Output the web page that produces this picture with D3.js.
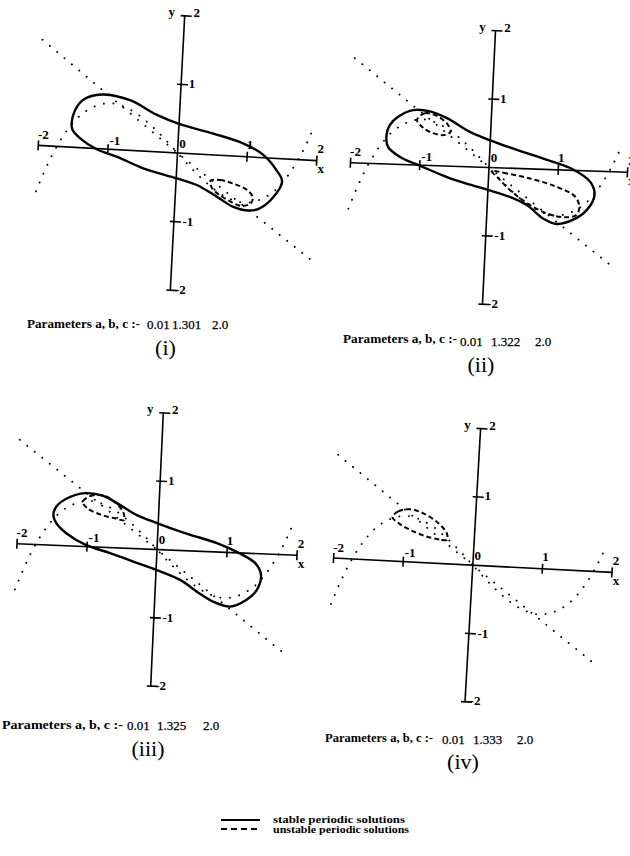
<!DOCTYPE html>
<html><head><meta charset="utf-8">
<script src="https://cdn.jsdelivr.net/npm/d3@7"></script>
<style>
html,body{margin:0;padding:0;background:#fff;}
svg{display:block;}
text{font-family:"Liberation Serif","Times New Roman",serif;fill:#000;}
</style></head>
<body>
<svg id="c" width="630" height="856"></svg>
<script>
// ---------- data ----------
const panelNames = ["(i)", "(ii)", "(iii)", "(iv)"];
const paramA = ["0.01", "0.01", "0.01", "0.01"];
const paramB = ["1.301", "1.322", "1.325", "1.333"];
const paramC = ["2.0", "2.0", "2.0", "2.0"];
const axisTicks = [-2, -1, 1, 2];

// dotted cubic curve (same in all panels)
const cubicX = [-2.0,-1.8,-1.6,-1.4,-1.2,-1.0,-0.8,-0.6,-0.4,-0.2,0,0.2,0.4,0.6,0.8,1.0,1.2,1.4,1.6,1.8,1.9];
const cubicY = [-0.67,-0.14,0.24,0.49,0.62,0.67,0.63,0.53,0.38,0.20,0,-0.20,-0.38,-0.53,-0.63,-0.67,-0.62,-0.49,-0.24,0.14,0.39];

// dotted straight line through the origin, per panel
const line1 = [[-2.02,1.54],[0,0],[2.05,-1.49]];
const line2 = [[-2.01,1.53],[0,0],[1.89,-1.42]];
const line3 = [[-2.03,1.52],[0,0],[1.85,-1.42]];
const line4 = [[-2.02,1.51],[0,0],[1.88,-1.39]];

// stable periodic solutions (solid)
const stable1 = [[-1.54,0.35],[-1.52,0.25],[-1.41,0.14],[-1.16,-0.01],[-0.87,-0.10],[-0.48,-0.25],[0.01,-0.37],[0.30,-0.45],[0.59,-0.60],[0.84,-0.74],[1.06,-0.78],[1.22,-0.74],[1.41,-0.56],[1.52,-0.33],[1.43,-0.17],[1.23,0.04],[0.94,0.19],[0.50,0.31],[0.01,0.42],[-0.33,0.54],[-0.72,0.73],[-1.13,0.79],[-1.39,0.70],[-1.50,0.54]];
const stable2 = [[-1.50,0.42],[-1.47,0.25],[-1.29,0.11],[-0.99,-0.01],[-0.60,-0.16],[-0.26,-0.26],[0.01,-0.33],[0.32,-0.42],[0.57,-0.53],[0.82,-0.72],[1.02,-0.79],[1.25,-0.72],[1.44,-0.57],[1.54,-0.35],[1.47,-0.16],[1.22,0.01],[0.83,0.14],[0.39,0.27],[-0.01,0.40],[-0.30,0.51],[-0.64,0.70],[-0.89,0.79],[-1.13,0.80],[-1.34,0.70],[-1.46,0.57]];
const stable3 = [[-1.50,0.44],[-1.45,0.32],[-1.30,0.18],[-1.01,0.02],[-0.67,-0.08],[-0.33,-0.19],[0.01,-0.30],[0.35,-0.43],[0.64,-0.62],[0.84,-0.73],[1.08,-0.79],[1.31,-0.68],[1.45,-0.53],[1.50,-0.31],[1.41,-0.14],[1.19,-0.01],[0.85,0.13],[0.41,0.25],[0.00,0.38],[-0.31,0.49],[-0.56,0.63],[-0.80,0.75],[-1.06,0.78],[-1.32,0.69],[-1.46,0.57]];

// unstable periodic solutions (dashed)
const unstable1 = [[0.49,-0.38],[0.63,-0.36],[0.82,-0.40],[1.02,-0.48],[1.11,-0.58],[1.09,-0.67],[0.96,-0.72],[0.79,-0.66],[0.64,-0.58],[0.52,-0.48]];
const unstable2a = [[-1.07,0.66],[-0.96,0.76],[-0.77,0.72],[-0.62,0.60],[-0.58,0.50],[-0.68,0.45],[-0.85,0.48],[-0.98,0.55]];
const unstable2b = [[0.04,-0.05],[0.21,-0.07],[0.60,-0.14],[0.99,-0.25],[1.26,-0.38],[1.33,-0.53],[1.29,-0.65],[1.13,-0.69],[0.86,-0.64],[0.57,-0.50],[0.32,-0.32],[0.14,-0.15]];
const unstable3 = [[-1.09,0.65],[-0.99,0.74],[-0.80,0.76],[-0.61,0.65],[-0.50,0.51],[-0.49,0.41],[-0.62,0.43],[-0.84,0.48],[-1.02,0.56]];
const unstable4 = [[-1.19,0.64],[-1.11,0.73],[-0.95,0.77],[-0.75,0.72],[-0.53,0.59],[-0.40,0.45],[-0.39,0.35],[-0.49,0.35],[-0.71,0.39],[-0.93,0.47],[-1.10,0.56]];

const legendLabels = ["stable periodic solutions", "unstable periodic solutions"];

// ---------- layout ----------
const layout = [
  {ox:177.5, oy:153,   ux:[69.6,3.8],  uy:[3.6,-68.6],
   par:{lx:27, ly:328, len:113, nx:[147,172,212], ny:329}, nm:{x:165.5, y:355}},
  {ox:489,   oy:167.5, ux:[69.25,2.35],uy:[3.25,-68.4],
   par:{lx:343,ly:343, len:114, nx:[460,491,535], ny:346}, nm:{x:481, y:372}},
  {ox:157,   oy:549.5, ux:[70,2.9],    uy:[3.15,-68.3],
   par:{lx:2,  ly:729, len:121, nx:[127,157,203], ny:730}, nm:{x:148, y:756}},
  {ox:472.8, oy:565.2, ux:[69.6,3.6],  uy:[3.9,-68.3],
   par:{lx:325,ly:742, len:108, nx:[442,473,517], ny:744}, nm:{x:463, y:769}}
];
const stableSets = [[stable1],[stable2],[stable3],[]];
const unstableSets = [[unstable1],[unstable2a,unstable2b],[unstable3],[unstable4]];
const lineSets = [line1,line2,line3,line4];

const svg = d3.select("#c");
const cubic = cubicX.map((x,i)=>[x,cubicY[i]]);

layout.forEach((L, k) => {
  const xPx = d3.scaleLinear().domain([0,1]).range([L.ox, L.ox + L.ux[0]]);
  const xPy = d3.scaleLinear().domain([0,1]).range([L.oy, L.oy + L.ux[1]]);
  const yPx = d3.scaleLinear().domain([0,1]).range([0, L.uy[0]]);
  const yPy = d3.scaleLinear().domain([0,1]).range([0, L.uy[1]]);
  const P = (x,y) => [xPx(x) + yPx(y), xPy(x) + yPy(y)];
  const g = svg.append("g");

  const nx = Math.hypot(L.ux[0],L.ux[1]), ny = Math.hypot(L.uy[0],L.uy[1]);
  const uxh = [L.ux[0]/nx, L.ux[1]/nx], uyh = [L.uy[0]/ny, L.uy[1]/ny];

  // axes
  const seg = (a,b) => g.append("line").attr("x1",a[0]).attr("y1",a[1]).attr("x2",b[0]).attr("y2",b[1])
      .attr("stroke","#000").attr("stroke-width",1.6);
  seg(P(-2,0), P(2,0));
  seg(P(0,-2), P(0,2));
  axisTicks.forEach(t => {
    const p = P(t,0);
    seg([p[0]-5*uyh[0], p[1]-5*uyh[1]], [p[0]+5*uyh[0], p[1]+5*uyh[1]]);
    const q = P(0,t);
    seg([q[0]-4*uxh[0], q[1]-4*uxh[1]], [q[0]+7*uxh[0], q[1]+7*uxh[1]]);
  });

  const lab = (txt, p, dx, dy, size) => g.append("text").attr("x", p[0]+dx).attr("y", p[1]+dy)
      .attr("text-anchor","middle").attr("dominant-baseline","central")
      .attr("font-size", size || 13).attr("font-weight","bold").text(txt);
  const xOff = {"-2":[5,-11], "-1":[7,-9], "1":[3,-12], "2":[4,-12]};
  const yOff = {"-2":[10,-1], "-1":[14,0], "1":[11,-1], "2":[12,-3]};
  axisTicks.forEach(t => {
    lab(String(t), P(t,0), xOff[t][0], xOff[t][1]);
    lab(String(t), P(0,t), yOff[t][0], yOff[t][1]);
  });
  lab("0", P(0,0), 5, -10);
  lab("x", P(2,0), 4, 8);
  lab("y", P(0,2), -13, -4);

  const ln = d3.line().x(d => P(d[0],d[1])[0]).y(d => P(d[0],d[1])[1]);

  // dotted curves
  g.append("path").attr("d", ln.curve(d3.curveCatmullRom)(cubic))
    .attr("fill","none").attr("stroke","#000").attr("stroke-width",1.9)
    .attr("stroke-linecap","round").attr("stroke-dasharray","0.1,9.5");
  g.append("path").attr("d", ln.curve(d3.curveLinear)(lineSets[k]))
    .attr("fill","none").attr("stroke","#000").attr("stroke-width",1.9)
    .attr("stroke-linecap","round").attr("stroke-dasharray","0.1,9.5");

  // stable loops
  stableSets[k].forEach(s => {
    g.append("path").attr("d", ln.curve(d3.curveCatmullRomClosed)(s))
      .attr("fill","none").attr("stroke","#000").attr("stroke-width",2.4);
  });
  // unstable loops
  unstableSets[k].forEach(s => {
    g.append("path").attr("d", ln.curve(d3.curveCatmullRomClosed)(s))
      .attr("fill","none").attr("stroke","#000").attr("stroke-width",2)
      .attr("stroke-dasharray","5,3");
  });

  // parameters text
  g.append("text").attr("x", L.par.lx).attr("y", L.par.ly)
    .attr("font-size", 11.5).attr("font-weight","bold")
    .attr("textLength", L.par.len).attr("lengthAdjust","spacingAndGlyphs")
    .text("Parameters a, b, c :-");
  [paramA[k], paramB[k], paramC[k]].forEach((v,i) => {
    g.append("text").attr("x", L.par.nx[i]).attr("y", L.par.ny)
      .attr("font-size", 13).attr("stroke","#000").attr("stroke-width",0.25).text(v);
  });
  g.append("text").attr("x", L.nm.x).attr("y", L.nm.y).attr("text-anchor","middle")
    .attr("font-size", 22).text(panelNames[k]);
});

// legend
const lg = svg.append("g");
lg.append("line").attr("x1",221).attr("x2",260).attr("y1",820).attr("y2",820)
  .attr("stroke","#000").attr("stroke-width",2);
lg.append("line").attr("x1",221).attr("x2",260).attr("y1",829).attr("y2",829)
  .attr("stroke","#000").attr("stroke-width",2).attr("stroke-dasharray","6,4");
legendLabels.forEach((t,i) => {
  lg.append("text").attr("x",273).attr("y", 823 + i*9.5)
    .attr("font-size",10).attr("font-weight","bold")
    .attr("textLength", i ? 136 : 132).attr("lengthAdjust","spacingAndGlyphs").text(t);
});
</script>
</body></html>
